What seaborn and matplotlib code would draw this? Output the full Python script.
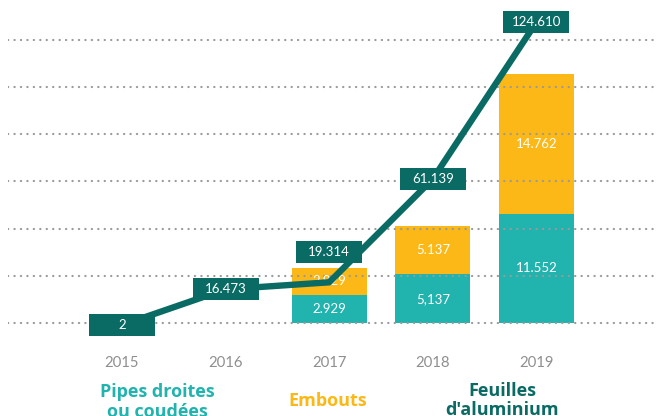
import numpy as np
import matplotlib.pyplot as plt
import seaborn as sns
from matplotlib.patches import Rectangle

# Values
years = ['2015', '2016', '2017', '2018', '2019']
pipes = [0, 0, 2.929, 5.137, 11.552]
embouts = [0, 0, 2.929, 5.137, 14.762]
feuilles = [2, 16.473, 19.314, 61.139, 124.610]
pipes_labels = ['', '', '2.929', '5,137', '11.552']
embouts_labels = ['', '', '2.929', '5.137', '14.762']
feuilles_labels = ['2', '16.473', '19.314', '61.139', '124.610']

teal = '#21b3ae'
yellow = '#fbb817'
dark = '#0a6b65'

sns.set_theme(style="white")
plt.rcParams['font.family'] = ['Lato', 'DejaVu Sans']

W, H = 657, 416
fig = plt.figure(figsize=(W / 100, H / 100), dpi=100)
ax = fig.add_axes([8 / W, 66 / H, 649 / W, 350 / H])

# Stacked bars: totals in yellow, pipes drawn over in teal
totals = np.array(pipes) + np.array(embouts)
sns.barplot(x=years, y=totals, color=yellow, saturation=1, width=0.725,
            errorbar=None, linewidth=0, ax=ax)
sns.barplot(x=years, y=pipes, color=teal, saturation=1, width=0.725,
            errorbar=None, linewidth=0, ax=ax)

# pixel scales
xpx = 103.6          # px per category
ypx = 9.45           # px per unit for bars
lpx = 2.47           # px per unit for the line
bar0, line0 = 27, 20  # zero of each scale, px above the axes bottom
ax.set_xlim(-114 / xpx, 535 / xpx)
ax.set_ylim(-bar0 / ypx, (350 - bar0) / ypx)
ax.set_yticks(np.arange(0, 31, 5))
ax.grid(axis='y', color='#9a9a9a', linestyle=(0, (0.1, 2.8)), linewidth=1.6)
for gl in ax.get_ygridlines():
    gl.set_dash_capstyle('round')
ax.set_axisbelow(False)
ax.set_xlabel('')
ax.set_ylabel('')
for s in ax.spines.values():
    s.set_visible(False)

# labels inside the bar segments
for i in range(len(years)):
    if pipes[i] > 0:
        ax.text(i, pipes[i] / 2, pipes_labels[i], ha='center', va='center',
                color='white', fontsize=9.5)
    if embouts[i] > 0:
        ax.text(i, pipes[i] + embouts[i] / 2, embouts_labels[i], ha='center',
                va='center', color='white', fontsize=9.5)

# Line for aluminium foil on its own scale
ax2 = ax.twinx()
sns.lineplot(x=years, y=feuilles, color=dark, linewidth=4.6, ax=ax2)
ax2.set_ylim(-line0 / lpx, (350 - line0) / lpx)
ax2.set_xlim(ax.get_xlim())
ax2.grid(False)
ax2.set_ylabel('')
for s in ax2.spines.values():
    s.set_visible(False)
ax.tick_params(axis='y', left=False, right=False, labelleft=False)
ax2.tick_params(axis='y', left=False, right=False, labelright=False)
ax.tick_params(axis='x', length=0, pad=4, labelsize=10.7, labelcolor='#8f8f8f')

# fixed-size label boxes (66 x 22 px)
bw, bh = 66 / xpx, 22 / lpx
for i, v in enumerate(feuilles):
    cy = v
    # lift the box above the bar stack when it would sit on it
    bar_top = totals[i] * ypx + bar0 - line0   # px above the line's zero
    if totals[i] > 0 and v * lpx - 11 < bar_top:
        cy = (bar_top + 5 + 11) / lpx
    ax2.add_patch(Rectangle((i - bw / 2, cy - bh / 2), bw, bh,
                            facecolor=dark, edgecolor='none', zorder=5))
    ax2.text(i, cy, feuilles_labels[i], ha='center', va='center',
             color='white', fontsize=9.5, zorder=6)

# category captions under the chart
cap = dict(ha='center', va='baseline', fontsize=13, fontweight='bold',
           family=['Open Sans', 'DejaVu Sans'])
fig.text(157 / W, (H - 397) / H, 'Pipes droites', color=teal, **cap)
fig.text(157 / W, (H - 417) / H, 'ou coudées', color=teal, **cap)
fig.text(328 / W, (H - 406) / H, 'Embouts', color=yellow, **cap)
fig.text(502 / W, (H - 396) / H, 'Feuilles', color=dark, **cap)
fig.text(502 / W, (H - 415) / H, "d'aluminium", color=dark, **cap)

fig.savefig('out.png', dpi=100)
